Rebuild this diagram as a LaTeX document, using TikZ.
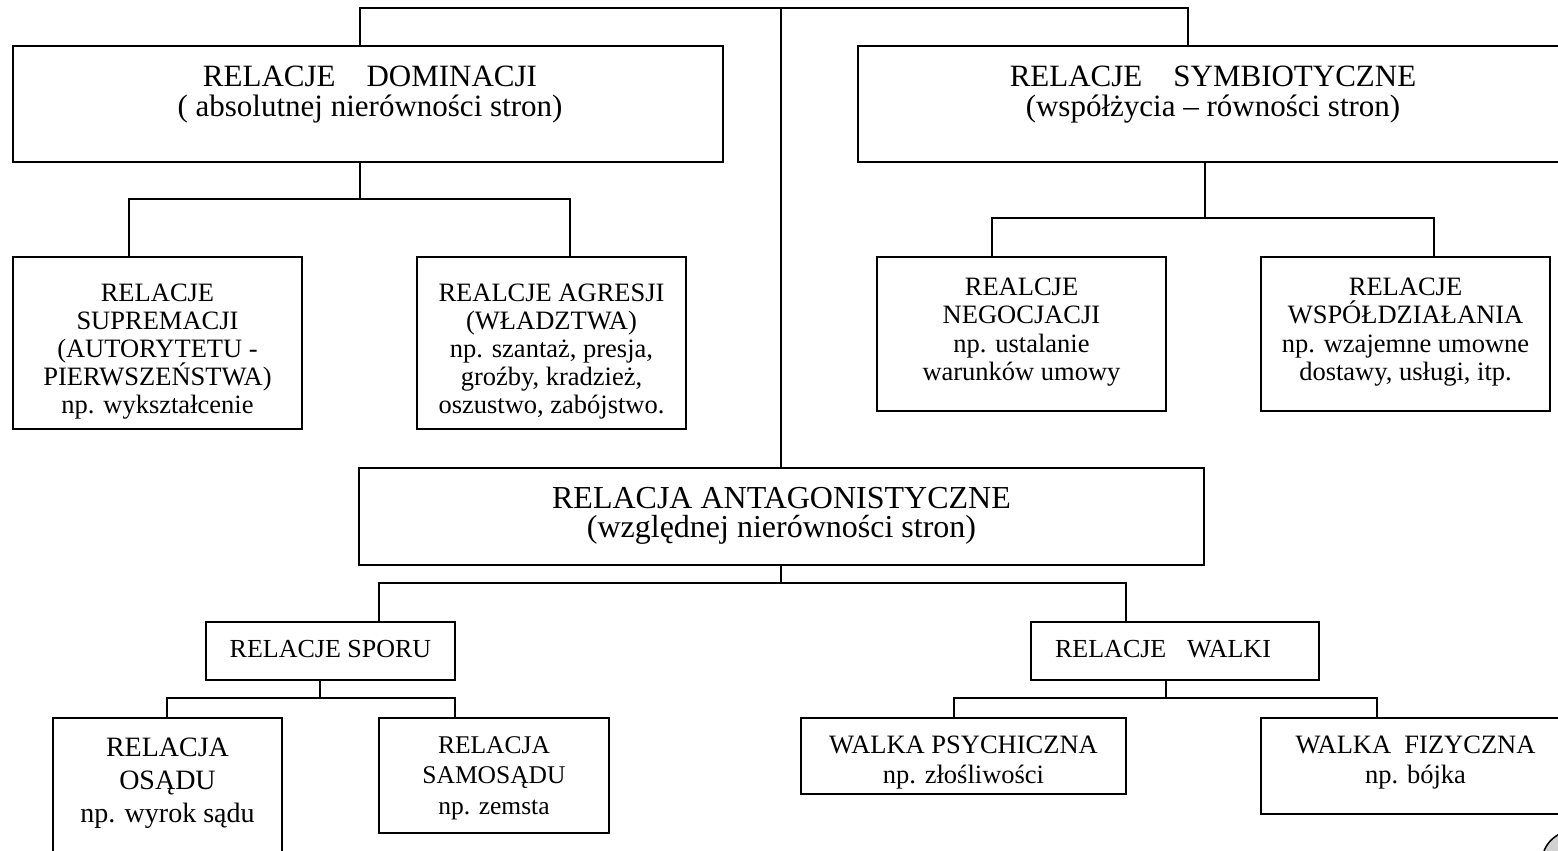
\documentclass[tikz,border=0pt]{standalone}
\usepackage{fontspec}
\setmainfont{Liberation Serif}
\newcommand{\stackl}[1]{\vtop{\lineskiplimit=-100pt\lineskip=0pt\halign{\hfil##\hfil\cr#1\crcr}}}
\begin{document}
\begin{tikzpicture}[x=1pt,y=-1pt,
  bx/.style={draw,line width=1.5pt,inner sep=0pt},
  tx/.style={anchor=base,inner sep=0pt},
  ln/.style={line width=1.5pt}]
\useasboundingbox (0,0) rectangle (1558,851);
\clip (0,0) rectangle (1558,851);
% boxes
\node[bx,minimum width=710pt,minimum height=116pt] (dom) at (368,104) {};
\node[bx,minimum width=710pt,minimum height=116pt] (sym) at (1213,104) {};
\node[bx,minimum width=289pt,minimum height=172pt] (sup) at (157.5,343) {};
\node[bx,minimum width=269pt,minimum height=172pt] (agr) at (551.5,343) {};
\node[bx,minimum width=289pt,minimum height=154pt] (neg) at (1021.5,334) {};
\node[bx,minimum width=289pt,minimum height=154pt] (wsp) at (1405.5,334) {};
\node[bx,minimum width=845pt,minimum height=97pt] (ant) at (781.5,516.5) {};
\node[bx,minimum width=249pt,minimum height=58pt] (spo) at (330.5,651) {};
\node[bx,minimum width=288pt,minimum height=58pt] (wal) at (1175,651) {};
\node[bx,minimum width=229pt,minimum height=162pt] (osa) at (167.5,799) {};
\node[bx,minimum width=230pt,minimum height=115pt] (sam) at (494,775.5) {};
\node[bx,minimum width=325pt,minimum height=76pt] (psy) at (963.5,756) {};
\node[bx,minimum width=309pt,minimum height=96pt] (fiz) at (1415.5,766) {};
% texts
\node[tx] (domt) at (370,87) {\fontsize{31}{29}\selectfont\stackl{RELACJE\hspace{1em}DOMINACJI\cr ( absolutnej nierówności stron)}};
\node[tx] (symt) at (1213,87) {\fontsize{31}{29}\selectfont\stackl{RELACJE\hspace{1em}SYMBIOTYCZNE\cr (współżycia – równości stron)}};
\node[tx] (supt) at (157.5,301) {\fontsize{26.5}{28}\selectfont\stackl{RELACJE\cr SUPREMACJI\cr (AUTORYTETU -\cr PIERWSZEŃSTWA)\cr np. wykształcenie}};
\node[tx] (agrt) at (551.5,301) {\fontsize{26.5}{28}\selectfont\stackl{REALCJE AGRESJI\cr (WŁADZTWA)\cr np. szantaż, presja,\cr groźby, kradzież,\cr oszustwo, zabójstwo.}};
\node[tx] (negt) at (1021.5,295) {\fontsize{26.5}{28.5}\selectfont\stackl{REALCJE\cr NEGOCJACJI\cr np. ustalanie\cr warunków umowy}};
\node[tx] (wspt) at (1405.5,295) {\fontsize{26.5}{28.5}\selectfont\stackl{RELACJE\cr WSPÓŁDZIAŁANIA\cr np. wzajemne umowne\cr dostawy, usługi, itp.}};
\node[tx] (antt) at (781.5,508) {\fontsize{32}{29.5}\selectfont\stackl{RELACJA ANTAGONISTYCZNE\cr (względnej nierówności stron)}};
\node[tx] (spot) at (330.5,657) {\fontsize{26}{28}\selectfont RELACJE SPORU};
\node[tx] (walt) at (1163,657) {\fontsize{26}{28}\selectfont RELACJE\hspace{0.8em}WALKI};
\node[tx] (osat) at (167.5,756) {\fontsize{28}{33}\selectfont\stackl{RELACJA\cr OSĄDU\cr np. wyrok sądu}};
\node[tx] (samt) at (494,753) {\fontsize{25.5}{30.5}\selectfont\stackl{RELACJA\cr SAMOSĄDU\cr np. zemsta}};
\node[tx] (psyt) at (963.5,753) {\fontsize{26.5}{30}\selectfont\stackl{WALKA PSYCHICZNA\cr np. złośliwości}};
\node[tx] (fizt) at (1415.5,753) {\fontsize{26.5}{30}\selectfont\stackl{WALKA\hspace{0.5em}FIZYCZNA\cr np. bójka}};
% junction coordinates
\coordinate (tl) at (360,8);
\coordinate (tc) at (781,8);
\coordinate (tr) at (1188,8);
\coordinate (dj) at (360,199);
\coordinate (djl) at (129,199);
\coordinate (djr) at (570,199);
\coordinate (sj) at (1205,218);
\coordinate (sjl) at (992,218);
\coordinate (sjr) at (1434,218);
\coordinate (aj) at (781,583);
\coordinate (ajl) at (379,583);
\coordinate (ajr) at (1126,583);
\coordinate (pj) at (320,698);
\coordinate (pjl) at (167,698);
\coordinate (pjr) at (455,698);
\coordinate (wj) at (1166,698);
\coordinate (wjl) at (954,698);
\coordinate (wjr) at (1377,698);
% connectors
\draw[ln] (dom.north -| tl) -- (tl) -- (tr) -- (sym.north -| tr);
\draw[ln] (tc) -- (ant.north -| tc);
\draw[ln] (dom.south -| dj) -- (dj);
\draw[ln] (sup.north -| djl) -- (djl) -- (djr) -- (agr.north -| djr);
\draw[ln] (sym.south -| sj) -- (sj);
\draw[ln] (neg.north -| sjl) -- (sjl) -- (sjr) -- (wsp.north -| sjr);
\draw[ln] (ant.south -| aj) -- (aj);
\draw[ln] (spo.north -| ajl) -- (ajl) -- (ajr) -- (wal.north -| ajr);
\draw[ln] (spo.south -| pj) -- (pj);
\draw[ln] (osa.north -| pjl) -- (pjl) -- (pjr) -- (sam.north -| pjr);
\draw[ln] (wal.south -| wj) -- (wj);
\draw[ln] (psy.north -| wjl) -- (wjl) -- (wjr) -- (fiz.north -| wjr);
% corner mark
\draw[ln,fill=black!18] (1573,862) circle (31pt);
\end{tikzpicture}
\end{document}
